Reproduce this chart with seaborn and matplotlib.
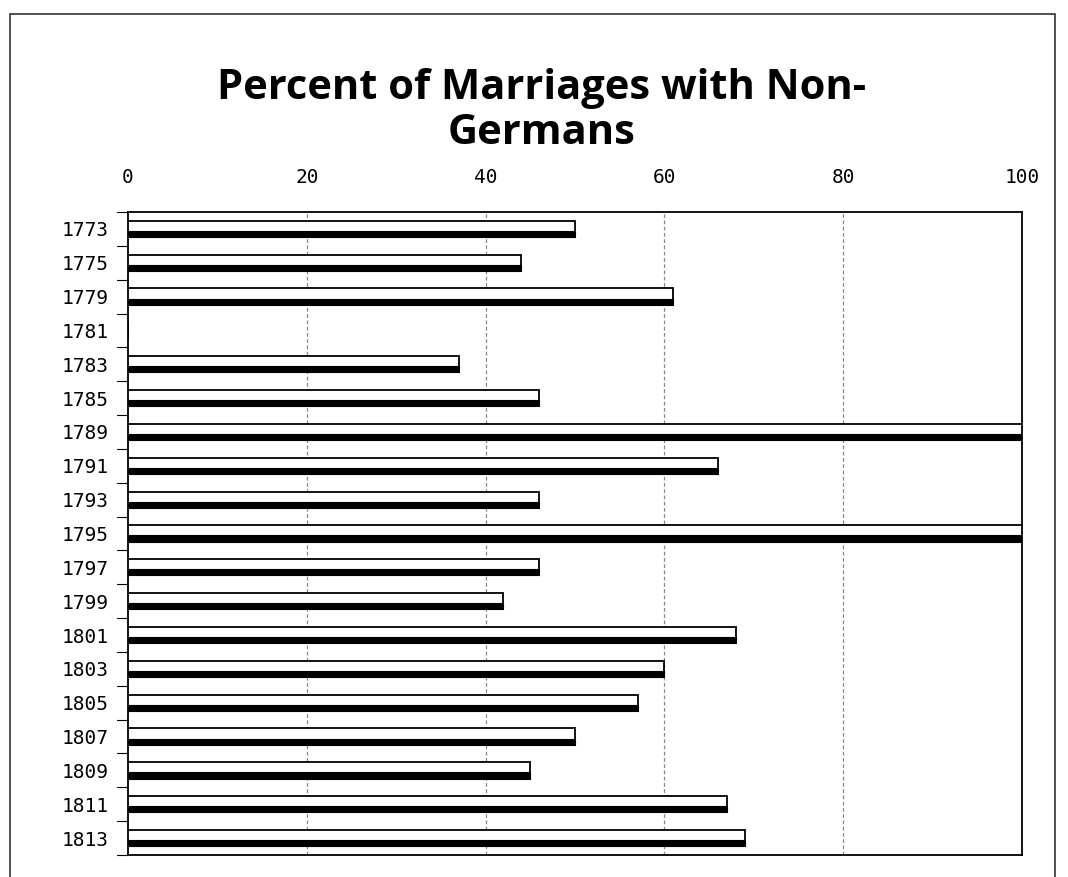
import numpy as np
import pandas as pd
from matplotlib import pyplot as plt
from matplotlib.patches import Rectangle
import seaborn as sns

years = ["1773", "1775", "1779", "1781", "1783", "1785", "1789", "1791", "1793", "1795",
         "1797", "1799", "1801", "1803", "1805", "1807", "1809", "1811", "1813"]
percent = [50, 44, 61, 0, 37, 46, 100, 66, 46, 100,
           46, 42, 68, 60, 57, 50, 45, 67, 69]
x_ticks = [0, 20, 40, 60, 80, 100]

df = pd.DataFrame({"year": years, "percent": percent})

sns.set_style("white")
plt.rcParams['font.family'] = ['DejaVu Sans Mono', 'DejaVu Sans']
plt.rcParams['text.color'] = 'black'
plt.rcParams['xtick.color'] = 'black'
plt.rcParams['ytick.color'] = 'black'

fig = plt.figure(figsize=(10.68, 8.77), dpi=100)
ax = fig.add_axes([128 / 1068, 1 - 855 / 877, (1022 - 128) / 1068, (855 - 212) / 877])

sns.barplot(data=df, x="percent", y="year", orient="h", color="white",
            edgecolor="black", linewidth=1.3, width=0.48, ax=ax, zorder=3)

# dark lower face of the pseudo-3D bars
for p in ax.patches:
    w = p.get_width()
    if w <= 0:
        continue
    y0 = p.get_y()
    h = p.get_height()
    ax.add_patch(Rectangle((p.get_x(), y0 + h * 0.62), w, h * 0.38,
                           facecolor="black", edgecolor="black", linewidth=0.8, zorder=4))

ax.set_xlim(0, 100)
ax.set_ylim(18.5, -0.5)
ax.set_xticks(x_ticks)
ax.xaxis.tick_top()
ax.tick_params(axis="x", length=0, pad=18, labelsize=14)
ax.tick_params(axis="y", length=0, pad=14, labelsize=14)
ax.set_xlabel("")
ax.set_ylabel("")
for xv in x_ticks[1:-1]:
    ax.axvline(xv, color="#888888", linestyle=(0, (3, 2)), linewidth=0.9, zorder=1)
for yv in np.arange(-0.5, 19, 1):
    ax.plot([-0.012, 0], [yv, yv], color="black", linewidth=0.8,
            transform=ax.get_yaxis_transform(), clip_on=False)
for s in ax.spines.values():
    s.set_visible(True)
    s.set_color("black")
    s.set_linewidth(1.3)

fig.text(542 / 1068, 1 - 111 / 877, "Percent of Marriages with Non-\nGermans",
         ha="center", va="center", fontsize=30, fontweight="bold", color="black",
         family=["Open Sans", "DejaVu Sans"], linespacing=1.1)

# outer chart frame
fig.patches.append(Rectangle((10 / 1068, -0.01), (1055 - 10) / 1068, 1 - 14 / 877 + 0.01,
                             transform=fig.transFigure, facecolor="none",
                             edgecolor="#333333", linewidth=1.2))

fig.savefig("out.png", dpi=100)
